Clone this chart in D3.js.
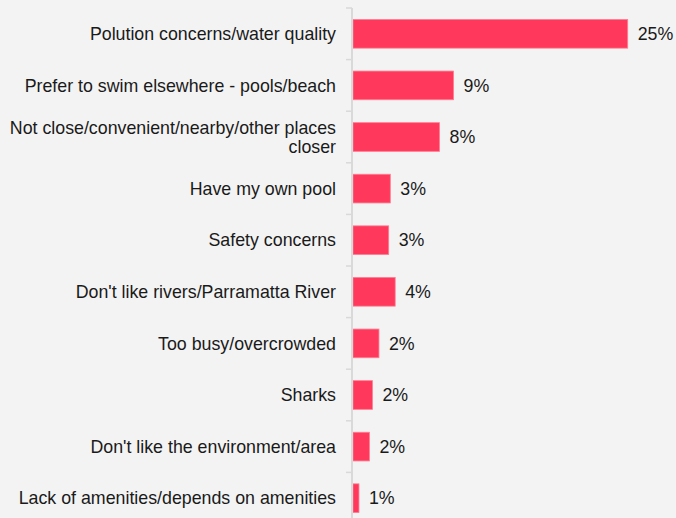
<!DOCTYPE html>
<html>
<head>
<meta charset="utf-8">
<script src="https://cdn.jsdelivr.net/npm/d3@7/dist/d3.min.js"></script>
<style>
  html, body { margin: 0; padding: 0; background: #f3f3f3; }
  svg { display: block; font-family: "Liberation Sans", Arial, sans-serif; }
</style>
</head>
<body>
<svg id="chart" width="676" height="518"></svg>
<script>
// Reasons for not swimming in the river (% of respondents)
const categories = [
  "Polution concerns/water quality",
  "Prefer to swim elsewhere - pools/beach",
  "Not close/convenient/nearby/other places closer",
  "Have my own pool",
  "Safety concerns",
  "Don't like rivers/Parramatta River",
  "Too busy/overcrowded",
  "Sharks",
  "Don't like the environment/area",
  "Lack of amenities/depends on amenities"
];
const values = [25.4, 9.3, 8.0, 3.45, 3.3, 3.9, 2.4, 1.8, 1.52, 0.55];

const svg = d3.select("#chart");
const axisX = 352;
const barColor = "#ff385c";
const fontSize = 17.8;

const x = d3.scaleLinear().domain([0, 25.4]).range([axisX + 1, axisX + 1 + 274.7]);
const y = d3.scaleBand()
  .domain(categories)
  .range([8, 524])
  .paddingInner(0.444)
  .paddingOuter(0.222);

const step = y.step();

// Bars
svg.append("g")
  .selectAll("rect")
  .data(values)
  .join("rect")
  .attr("x", x(0))
  .attr("y", (d, i) => y(categories[i]))
  .attr("width", d => x(d) - x(0))
  .attr("height", y.bandwidth())
  .attr("fill", barColor)
  .attr("stroke", "#ff7d92")
  .attr("stroke-width", 0.8);

// Category axis: vertical line with ticks between categories
const axis = svg.append("g").attr("stroke", "#d9d9d9");
axis.append("line")
  .attr("x1", axisX).attr("x2", axisX)
  .attr("y1", 8).attr("y2", 524)
  .attr("stroke-width", 2);
axis.selectAll("line.tick")
  .data(d3.range(categories.length + 1))
  .join("line")
  .attr("class", "tick")
  .attr("x1", axisX - 6).attr("x2", axisX)
  .attr("y1", i => 8 + i * step)
  .attr("y2", i => 8 + i * step)
  .attr("stroke-width", 1.5);

// Category labels, wrapped to fit left of the axis
const maxLabelWidth = 334;
const lineHeight = 19;
const labels = svg.append("g")
  .attr("font-size", fontSize)
  .attr("fill", "#1a1a1a")
  .attr("text-anchor", "end");

categories.forEach(cat => {
  const t = labels.append("text").attr("x", axisX - 16);
  const words = cat.split(" ");
  let lines = [];
  let line = [];
  const probe = t.append("tspan");
  words.forEach(w => {
    line.push(w);
    probe.text(line.join(" "));
    if (probe.node().getComputedTextLength() > maxLabelWidth && line.length > 1) {
      line.pop();
      lines.push(line.join(" "));
      line = [w];
    }
  });
  lines.push(line.join(" "));
  probe.remove();
  const cy = y(cat) + y.bandwidth() / 2;
  const y0 = cy - (lines.length - 1) * lineHeight / 2;
  lines.forEach((l, k) => {
    t.append("tspan")
      .attr("x", axisX - 16)
      .attr("y", y0 + k * lineHeight)
      .attr("dy", "0.35em")
      .text(l);
  });
});

// Value labels
const fmt = v => d3.format(".0f")(v) + "%";
svg.append("g")
  .attr("font-size", fontSize)
  .attr("fill", "#1a1a1a")
  .selectAll("text")
  .data(values)
  .join("text")
  .attr("x", d => x(d) + 10)
  .attr("y", (d, i) => y(categories[i]) + y.bandwidth() / 2)
  .attr("dy", "0.35em")
  .text(d => fmt(d));
</script>
</body>
</html>
